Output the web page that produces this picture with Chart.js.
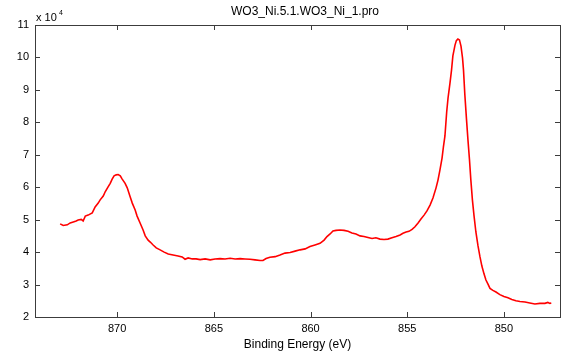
<!DOCTYPE html>
<html>
<head>
<meta charset="utf-8">
<script src="https://cdn.jsdelivr.net/npm/chart.js@4/dist/chart.umd.min.js"></script>
<style>
  html, body { margin: 0; padding: 0; background: #fff; }
  #wrap { width: 572px; height: 352px; }
</style>
</head>
<body>
<div id="wrap"><canvas id="xps" width="572" height="352"></canvas></div>
<script>
// --- data (binding energy in eV, counts in units of 1e4) ---
const chartTitle = 'WO3_Ni.5.1.WO3_Ni_1.pro';
const xLabel = 'Binding Energy (eV)';
const xTicks = [870, 865, 860, 855, 850];
const yTicks = [2, 3, 4, 5, 6, 7, 8, 9, 10, 11];

const energy = [
  872.95, 872.79, 872.58, 872.43, 872.27, 872.12, 872.02, 871.86, 871.76, 871.65,
  871.50, 871.29, 871.14, 870.98, 870.88, 870.72, 870.62, 870.47, 870.36, 870.26,
  870.16, 870.05, 869.95, 869.84, 869.74, 869.59, 869.48, 869.33, 869.22, 869.07,
  868.97, 868.81, 868.66, 868.55, 868.40, 868.29, 868.14, 867.98, 867.78, 867.57,
  867.36, 867.11, 866.85, 866.64, 866.49, 866.33, 866.12, 865.92, 865.71, 865.45,
  865.19, 864.94, 864.68, 864.42, 864.16, 863.90, 863.64, 863.39, 863.13, 862.87,
  862.61, 862.46, 862.30, 862.10, 861.83, 861.58, 861.32, 861.06, 860.80, 860.54,
  860.28, 860.03, 859.77, 859.51, 859.30, 859.15, 858.99, 858.84, 858.68, 858.48,
  858.27, 858.06, 857.86, 857.65, 857.44, 857.24, 857.03, 856.82, 856.62, 856.41,
  856.20, 856.00, 855.79, 855.58, 855.37, 855.22, 855.06, 854.91, 854.75, 854.60,
  854.44, 854.29, 854.13, 853.98, 853.82, 853.67, 853.51, 853.41, 853.31, 853.20,
  853.13, 853.05, 852.96, 852.89, 852.79, 852.71, 852.64, 852.53, 852.46, 852.38,
  852.30, 852.22, 852.14, 852.09, 852.02, 851.94, 851.86, 851.78, 851.71, 851.63,
  851.55, 851.45, 851.34, 851.24, 851.14, 851.03, 850.93, 850.83, 850.72, 850.57,
  850.41, 850.21, 850.00, 849.79, 849.59, 849.38, 849.17, 848.91, 848.66, 848.40,
  848.14, 847.88, 847.73, 847.62, 847.55
];
const counts = [
  4.87, 4.82, 4.84, 4.90, 4.93, 4.96, 4.99, 5.01, 4.96, 5.11,
  5.14, 5.21, 5.39, 5.51, 5.61, 5.73, 5.86, 6.01, 6.12, 6.25,
  6.35, 6.38, 6.39, 6.35, 6.25, 6.12, 5.98, 5.71, 5.51, 5.30,
  5.11, 4.89, 4.68, 4.50, 4.37, 4.31, 4.22, 4.13, 4.07, 4.00,
  3.94, 3.91, 3.88, 3.85, 3.78, 3.82, 3.79, 3.79, 3.77, 3.79,
  3.76, 3.79, 3.80, 3.79, 3.81, 3.79, 3.80, 3.79, 3.78, 3.76,
  3.74, 3.74, 3.80, 3.84, 3.86, 3.91, 3.97, 3.99, 4.03, 4.07,
  4.10, 4.17, 4.22, 4.27, 4.37, 4.48, 4.56, 4.65, 4.67, 4.68,
  4.67, 4.64, 4.59, 4.56, 4.50, 4.48, 4.45, 4.42, 4.44, 4.40,
  4.39, 4.40, 4.44, 4.48, 4.53, 4.58, 4.62, 4.64, 4.70, 4.78,
  4.90, 5.02, 5.14, 5.27, 5.45, 5.67, 5.98, 6.22, 6.53, 6.90,
  7.24, 7.58, 8.32, 8.75, 9.21, 9.61, 10.05, 10.38, 10.52, 10.57,
  10.54, 10.35, 9.98, 9.61, 8.84, 8.13, 7.46, 6.84, 6.22, 5.61,
  5.14, 4.62, 4.19, 3.86, 3.57, 3.33, 3.14, 3.02, 2.88, 2.82,
  2.77, 2.69, 2.63, 2.59, 2.54, 2.50, 2.48, 2.46, 2.43, 2.40,
  2.42, 2.42, 2.45, 2.42, 2.43
];

const FONT = 'Arial, "Liberation Sans", sans-serif';
const FRAME = '#3c3c3c';

// MATLAB style box: frame on four sides, inward ticks, title and exponent label
const matlabBox = {
  id: 'matlabBox',
  afterDraw(chart) {
    const { ctx, chartArea: a, scales } = chart;
    ctx.save();
    ctx.strokeStyle = FRAME;
    ctx.lineWidth = 1;
    ctx.strokeRect(a.left + 0.5, a.top + 0.5, a.right - a.left, a.bottom - a.top);
    ctx.beginPath();
    const tl = 5;
    xTicks.forEach(v => {
      const px = Math.round(scales.x.getPixelForValue(v)) + 0.5;
      ctx.moveTo(px, a.bottom); ctx.lineTo(px, a.bottom - tl);
      ctx.moveTo(px, a.top); ctx.lineTo(px, a.top + tl);
    });
    yTicks.forEach(v => {
      const py = Math.round(scales.y.getPixelForValue(v)) + 0.5;
      ctx.moveTo(a.left, py); ctx.lineTo(a.left + tl, py);
      ctx.moveTo(a.right, py); ctx.lineTo(a.right - tl, py);
    });
    ctx.stroke();

    ctx.fillStyle = '#000';
    ctx.font = '12px ' + FONT;
    ctx.textAlign = 'center';
    ctx.textBaseline = 'middle';
    ctx.fillText(chartTitle, 305, 12);

    ctx.textAlign = 'left';
    ctx.font = '11px ' + FONT;
    ctx.fillText('x 10', 36, 18);
    ctx.font = '7px ' + FONT;
    ctx.fillText('4', 59, 13);
    ctx.restore();
  }
};

const ctx = document.getElementById('xps').getContext('2d');
new Chart(ctx, {
  type: 'line',
  data: {
    datasets: [{
      data: energy.map((e, i) => ({ x: e, y: counts[i] })),
      borderColor: '#ff0000',
      borderWidth: 1.6,
      pointRadius: 0,
      tension: 0,
      fill: false
    }]
  },
  options: {
    responsive: false,
    animation: false,
    events: [],
    layout: { padding: { top: 25, right: 12, left: 0, bottom: 0 } },
    plugins: { legend: { display: false }, tooltip: { enabled: false } },
    scales: {
      x: {
        type: 'linear',
        reverse: true,
        min: 847.1,
        max: 874.25,
        afterBuildTicks: s => { s.ticks = xTicks.map(v => ({ value: v })); },
        afterFit: s => { s.height = 35; },
        grid: { display: false, drawTicks: false },
        border: { display: false },
        ticks: { color: '#000', font: { family: FONT, size: 11 }, padding: 5, maxRotation: 0 },
        title: { display: true, text: xLabel, color: '#000', font: { family: FONT, size: 12 }, padding: { top: 0, bottom: 0 } }
      },
      y: {
        min: 2,
        max: 11,
        afterBuildTicks: s => { s.ticks = yTicks.map(v => ({ value: v })); },
        afterFit: s => { s.width = 35; },
        grid: { display: false, drawTicks: false },
        border: { display: false },
        ticks: { color: '#000', font: { family: FONT, size: 11 }, padding: 6 }
      }
    }
  },
  plugins: [matlabBox]
});
</script>
</body>
</html>
